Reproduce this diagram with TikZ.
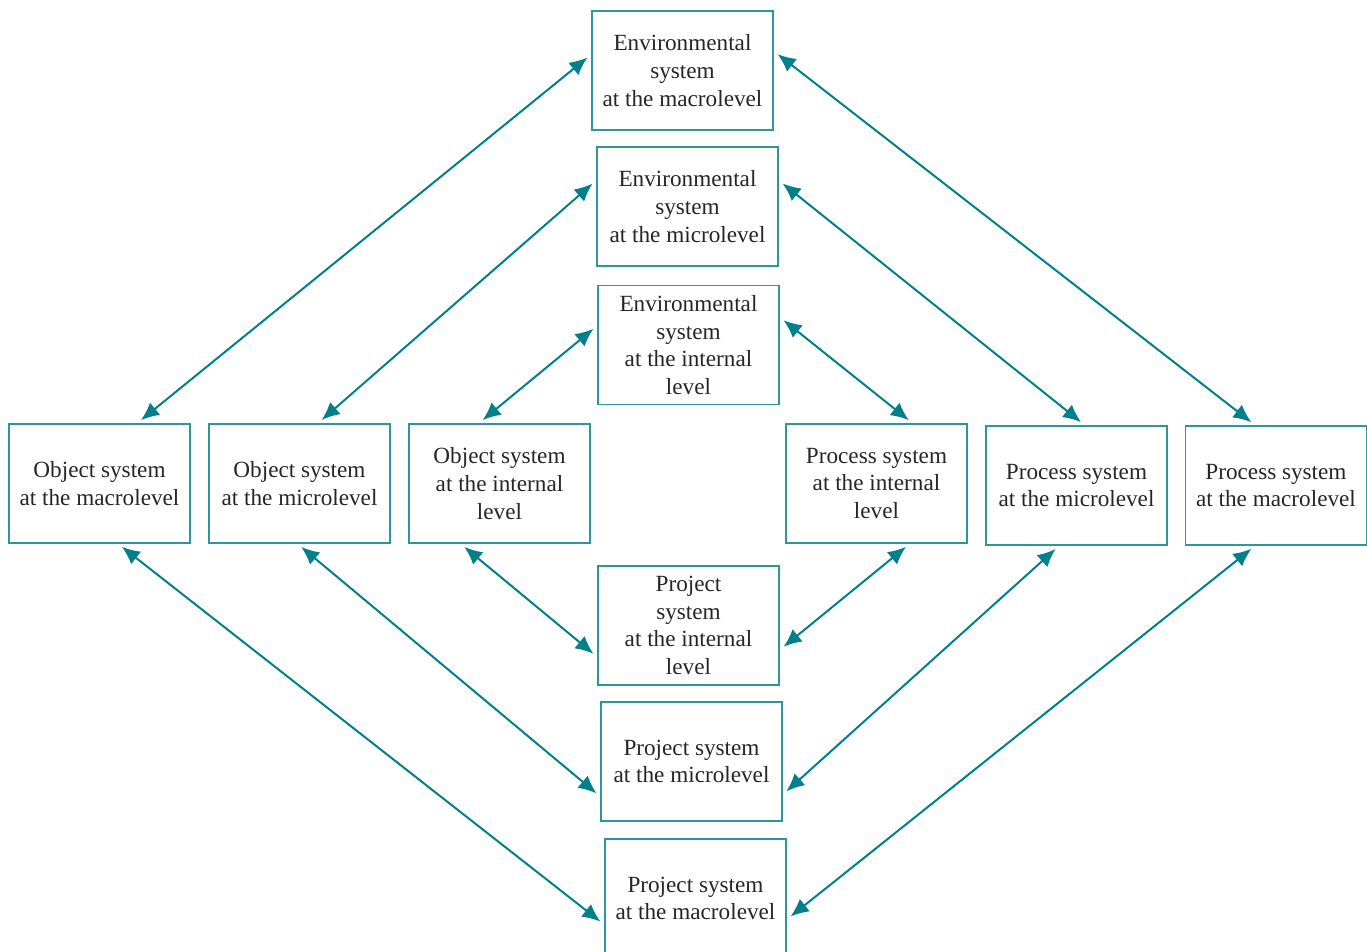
\documentclass[tikz,border=0pt]{standalone}
\usepackage{fontspec}
\setmainfont{Liberation Serif}
\usetikzlibrary{arrows.meta}

\definecolor{linkteal}{RGB}{0,128,138}
\definecolor{boxteal}{RGB}{45,150,155}

\tikzset{
    sysbox/.style={draw=boxteal, line width=0.7pt, rectangle, minimum width=90.5pt, minimum height=59.5pt,
        inner sep=0pt, align=center, text=black!85, font=\fontsize{11.6pt}{13.8pt}\selectfont},
    link/.style={<->, draw=linkteal, line width=1pt, shorten <=2.5pt, shorten >=2.5pt}
}

\begin{document}
\begin{tikzpicture}[node distance=68pt, >={Latex[length=9pt,width=8pt]}]
    \useasboundingbox (0,0) rectangle (683.5pt,-476pt);

    % environment column (top)
    \node (EnvMacro) [sysbox] at (341.25pt,-35.25pt) {Environmental\\system\\at the macrolevel};
    \node (EnvMicro) [sysbox, below of=EnvMacro, xshift=2.5pt] {Environmental\\system\\at the microlevel};
    \node (EnvInternal) [sysbox, below of=EnvMicro, xshift=0.5pt, yshift=-1.25pt] {Environmental\\system\\at the internal\\level};

    % object row (left)
    \node (ObjMacro) [sysbox] at (49.75pt,-241.75pt) {Object system\\at the macrolevel};
    \node (ObjMicro) [sysbox, right of=ObjMacro, node distance=100pt] {Object system\\at the microlevel};
    \node (ObjInternal) [sysbox, right of=ObjMicro, node distance=100pt] {Object system\\at the internal\\level};

    % process row (right)
    \node (ProcInternal) [sysbox] at (438.25pt,-241.75pt) {Process system\\at the internal\\level};
    \node (ProcMicro) [sysbox, right of=ProcInternal, node distance=100pt, yshift=-1pt] {Process system\\at the microlevel};
    \node (ProcMacro) [sysbox, right of=ProcMicro, node distance=100pt, xshift=-0.25pt] {Process system\\at the macrolevel};

    % project column (bottom)
    \node (ProjInternal) [sysbox] at (344.25pt,-312.75pt) {Project\\system\\at the internal\\level};
    \node (ProjMicro) [sysbox, below of=ProjInternal, xshift=1.5pt] {Project system\\at the microlevel};
    \node (ProjMacro) [sysbox, below of=ProjMicro, xshift=2pt, yshift=-0.5pt] {Project system\\at the macrolevel};

    % upper links
    \draw[link] (EnvMacro.170) -- (ObjMacro.58);
    \draw[link] (EnvMacro.12) -- (ProcMacro.109);
    \draw[link] (EnvMicro.164) -- (ObjMicro.73);
    \draw[link] (EnvMicro.16) -- (ProcMicro.82);
    \draw[link] (EnvInternal.168) -- (ObjInternal.109);
    \draw[link] (EnvInternal.17) -- (ProcInternal.59);

    % lower links
    \draw[link] (ObjMacro.287) -- (ProjMacro.196);
    \draw[link] (ObjMicro.268) -- (ProjMicro.201);
    \draw[link] (ObjInternal.237) -- (ProjInternal.199);
    \draw[link] (ProcInternal.299) -- (ProjInternal.345);
    \draw[link] (ProcMicro.254) -- (ProjMicro.340);
    \draw[link] (ProcMacro.251) -- (ProjMacro.347);
\end{tikzpicture}
\end{document}
